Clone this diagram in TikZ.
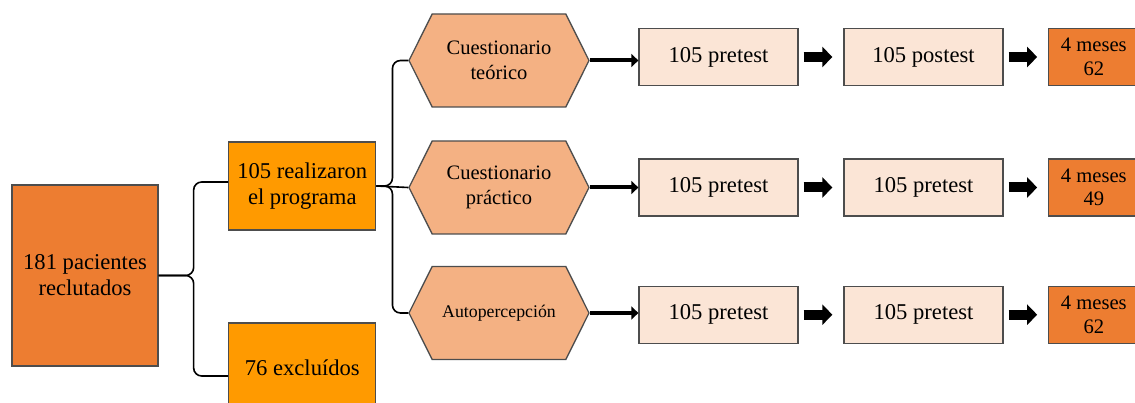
\documentclass[tikz,border=0pt]{standalone}
\usepackage{fontspec}
\setmainfont{Liberation Serif}
\usetikzlibrary{arrows.meta,shapes.symbols}
\definecolor{naranja}{HTML}{ED7D31}
\definecolor{ambar}{HTML}{FF9A00}
\definecolor{salmon}{HTML}{F4B183}
\definecolor{crema}{HTML}{FBE5D6}
\definecolor{borde}{HTML}{4D4D4D}

\begin{document}
\begin{tikzpicture}[x=1pt,y=-1pt,
    caja/.style={draw=borde,line width=1.3pt,align=center,inner sep=2pt},
    grande/.style={caja,font=\fontsize{22.6}{26}\selectfont},
    hexa/.style={signal,signal to=west and east,signal pointer angle=127,
                 draw=borde,line width=1.3pt,fill=salmon,align=center,
                 minimum width=180pt,minimum height=93pt,inner sep=1pt,
                 font=\fontsize{20.5}{25}\selectfont},
    test/.style={grande,fill=crema,minimum width=159pt,minimum height=57pt},
    meses/.style={caja,fill=naranja,minimum width=90pt,minimum height=57pt,
                  font=\fontsize{20.6}{23.4}\selectfont},
    linea/.style={line width=1.6pt,rounded corners=8pt},
    flecha/.style={line width=4pt,-{Triangle[length=7pt,width=13pt]}},
    bloque/.style={line width=10pt,-{Triangle[length=10pt,width=20pt]},
                   shorten <=5pt,shorten >=11pt}]

  \useasboundingbox (0,0) rectangle (1135,403);

  % left column
  \node[grande,fill=naranja,minimum width=146pt,minimum height=181pt] (pac) at (85,275.5) {181 pacientes\\reclutados};
  \node[grande,fill=ambar,minimum width=147pt,minimum height=88pt] (real) at (302.3,186) {105 realizaron\\el programa};
  \node[grande,fill=ambar,minimum width=147pt,minimum height=90pt] (excl) at (302.3,368) {76 excluídos};

  % instruments
  \node[hexa] (hex1) at (499,60.5) {Cuestionario\\teórico};
  \node[hexa] (hex2) at (499,187.5) {Cuestionario\\práctico};
  \node[hexa,font=\fontsize{17.8}{22}\selectfont] (hex3) at (499,313) {Autopercepción};

  % rows
  \node[test] (pre1)  [right of=hex1,node distance=219.5pt,yshift=3.5pt] {105 pretest};
  \node[test] (post1) [right of=pre1,node distance=205pt] {105 postest};
  \node[meses] (mes1) [right of=post1,node distance=170.3pt] {4 meses\\62};

  \node[test] (pre2)  [right of=hex2,node distance=219.5pt] {105 pretest};
  \node[test] (post2) [right of=pre2,node distance=205pt] {105 pretest};
  \node[meses] (mes2) [right of=post2,node distance=170.3pt] {4 meses\\49};

  \node[test] (pre3)  [right of=hex3,node distance=219.5pt,yshift=-1.7pt] {105 pretest};
  \node[test] (post3) [right of=pre3,node distance=205pt] {105 pretest};
  \node[meses] (mes3) [right of=post3,node distance=170.3pt] {4 meses\\62};

  % connectors
  \draw[linea] (pac.east) -- ++(35,0) |- ([yshift=4pt]real.west);
  \draw[linea] (pac.east) -- ++(35,0) |- ([yshift=-8pt]excl.west);
  \draw[linea] (real.east) -- (hex2.west);
  \draw[linea] (real.east) -- ++(16,0) |- (hex1.west);
  \draw[linea] (real.east) -- ++(16,0) |- (hex3.west);

  \foreach \i in {1,2,3} {
    \draw[flecha] (hex\i.east) -- (hex\i.east -| pre\i.west);
    \draw[bloque] (pre\i) -- (post\i);
    \draw[bloque] (post\i) -- (mes\i);
  }

\end{tikzpicture}
\end{document}
